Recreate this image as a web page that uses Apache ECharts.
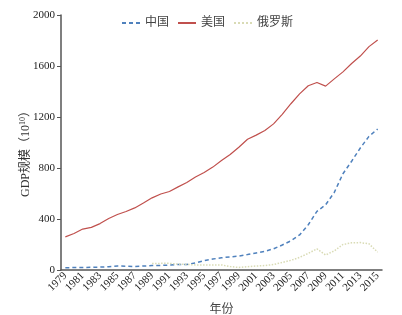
<!DOCTYPE html>
<html>
<head>
<meta charset="utf-8">
<script src="https://cdn.jsdelivr.net/npm/echarts@6/dist/echarts.min.js"></script>
<style>
  html, body { margin: 0; padding: 0; background: #fff; }
  #chart { width: 402px; height: 315px; }
</style>
</head>
<body>
<div id="chart"></div>
<script>
// 年份 1979-2015
const years = []
for (let y = 1979; y <= 2015; y++) years.push(String(y))

// GDP 规模 (10^10)
const china = [18, 19, 20, 21, 23, 26, 31, 30, 27, 31, 35, 36, 38, 43, 44, 56, 73, 86, 96, 103,
  109, 121, 134, 147, 166, 196, 229, 275, 355, 460, 511, 609, 755, 853, 957, 1048, 1106]
const usa = [260, 286, 321, 334, 364, 404, 435, 459, 487, 525, 566, 596, 616, 652, 686, 729, 764, 807, 858, 906,
  963, 1025, 1058, 1094, 1146, 1221, 1304, 1381, 1445, 1471, 1442, 1499, 1554, 1620, 1678, 1752, 1804]
const russia = [null, null, null, null, null, null, null, null, null, null,
  51, 52, 52, 46, 44, 40, 40, 39, 40, 27, 20, 26, 31, 35, 43, 59, 76, 99, 130, 166, 118, 150, 200, 213, 215, 205, 140]

const serif = '"Liberation Serif", "Times New Roman", serif'
const cjk = '"Liberation Serif", "Noto Sans CJK SC", serif'

const chart = echarts.init(document.getElementById('chart'))

chart.setOption({
  animation: false,
  legend: {
    top: 12,
    left: 116,
    itemWidth: 18,
    itemHeight: 8,
    itemGap: 8,
    itemStyle: { opacity: 0 },
    textStyle: { fontFamily: cjk, fontSize: 12, color: '#444' },
    data: ['中国', '美国', '俄罗斯']
  },
  grid: { left: 61, right: 20, top: 15, bottom: 45, outerBoundsMode: 'none' },
  // 纵轴标题（旋转文字）
  graphic: [
    {
      type: 'text',
      x: 26,
      y: 151,
      rotation: Math.PI / 2,
      style: {
        text: 'GDP规模（10{sup|10}）',
        font: '12px ' + cjk,
        fill: '#333',
        align: 'center',
        verticalAlign: 'middle',
        rich: {
          sup: { fontFamily: serif, fontSize: 8, fill: '#333', padding: [0, 0, 6, 0] }
        }
      }
    }
  ],
  xAxis: {
    type: 'category',
    data: years,
    boundaryGap: true,
    name: '年份',
    nameLocation: 'middle',
    nameGap: 34,
    nameTextStyle: { fontFamily: cjk, fontSize: 12, color: '#444' },
    axisLine: { lineStyle: { color: '#555', width: 1.5 } },
    axisTick: { interval: 0, length: 4, lineStyle: { color: '#555' } },
    axisLabel: {
      interval: 1,
      rotate: 45,
      margin: 4,
      fontFamily: serif,
      fontSize: 11,
      color: '#222'
    },
    splitLine: { show: false }
  },
  yAxis: {
    type: 'value',
    min: 0,
    max: 2000,
    interval: 400,
    axisLine: { show: true, lineStyle: { color: '#555', width: 1.5 } },
    axisTick: { show: true, length: 4, lineStyle: { color: '#555' } },
    axisLabel: { fontFamily: serif, fontSize: 11, color: '#222', margin: 6, formatter: (v) => String(v) },
    splitLine: { show: false }
  },
  series: [
    {
      name: '中国',
      type: 'line',
      data: china,
      symbol: 'none',
      lineStyle: { color: '#4f81bd', width: 1.5, type: [4, 3] },
      itemStyle: { color: '#4f81bd' }
    },
    {
      name: '美国',
      type: 'line',
      data: usa,
      symbol: 'none',
      lineStyle: { color: '#c0504d', width: 1.2 },
      itemStyle: { color: '#c0504d' }
    },
    {
      name: '俄罗斯',
      type: 'line',
      data: russia,
      symbol: 'none',
      lineStyle: { color: '#d9dbb5', width: 1.5, type: 'dotted' },
      itemStyle: { color: '#d9dbb5' }
    }
  ]
})
</script>
</body>
</html>
